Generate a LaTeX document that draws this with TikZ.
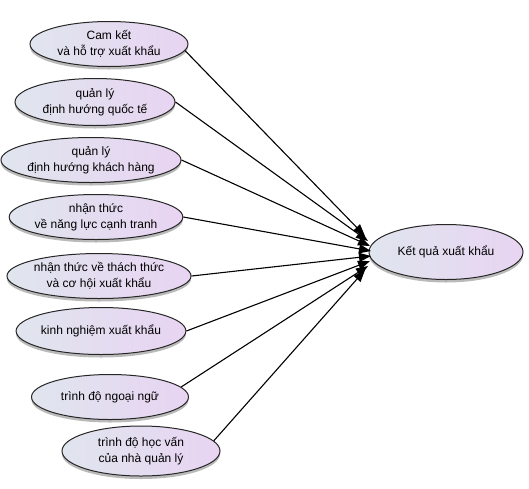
\documentclass[tikz,border=0pt]{standalone}
\usepackage{fontspec}
\setmainfont{Liberation Sans}
\usetikzlibrary{shapes.geometric,arrows.meta,shadows}
\definecolor{elL}{RGB}{224,229,238}
\definecolor{elR}{RGB}{232,212,242}
\tikzset{
  ell/.style={ellipse, draw=black!85, line width=1pt, minimum width=#1, minimum height=45pt,
    inner sep=0pt, left color=elL, right color=elR, align=center,
    font=\fontsize{12}{16}\selectfont,
    drop shadow={shadow xshift=0pt, shadow yshift=-3pt, fill=black!45, opacity=0.6}},
  ell/.default=155pt,
  conn/.style={line width=1.1pt, -{Triangle[length=12pt,width=9pt]}}
}
\begin{document}
\begin{tikzpicture}[x=1pt,y=-1pt]
\useasboundingbox (0,0) rectangle (529,488);
\node[ell=158pt] (a1) at (109,44) {Cam kết\\và hỗ trợ xuất khẩu};
\node[ell=160pt, minimum height=47pt] (a2) at (95,102) {quản lý\\định hướng quốc tế};
\node[ell=157pt] (a3) at (91,160) {quản lý\\định hướng khách hàng};
\node[ell=163pt] (a4) at (96,217) {nhận thức\\về năng lực cạnh tranh};
\node[ell=165pt] (a5) at (99,276) {nhận thức về thách thức\\và cơ hội xuất khẩu};
\node[ell=161pt, minimum height=47pt] (a6) at (101,331) {kinh nghiệm xuất khẩu};
\node[ell=157pt] (a7) at (110,397) {trình độ ngoại ngữ};
\node[ell=158pt, minimum height=50pt] (a8) at (141,451) {trình độ học vấn\\của nhà quản lý};
\node[ell=154pt, minimum height=55pt] (t) at (446,252) {Kết quả xuất khẩu};
\coordinate (e1) at (365,236);
\coordinate (e2) at (368,241);
\coordinate (e3) at (370,246);
\coordinate (e4) at (371,251);
\coordinate (e5) at (371,256);
\coordinate (e6) at (370,261);
\coordinate (e7) at (368,266);
\coordinate (e8) at (365,270);
\draw[conn] (a1.-5) -- (e1);
\draw[conn] (a2.east) -- (e2);
\draw[conn] (a3.east) -- (e3);
\draw[conn] (a4.east) -- (e4);
\draw[conn] (a5.east) -- (e5);
\draw[conn] (a6.east) -- (e6);
\draw[conn] (a7.8) -- (e7);
\draw[conn] (a8.8) -- (e8);
\end{tikzpicture}
\end{document}
